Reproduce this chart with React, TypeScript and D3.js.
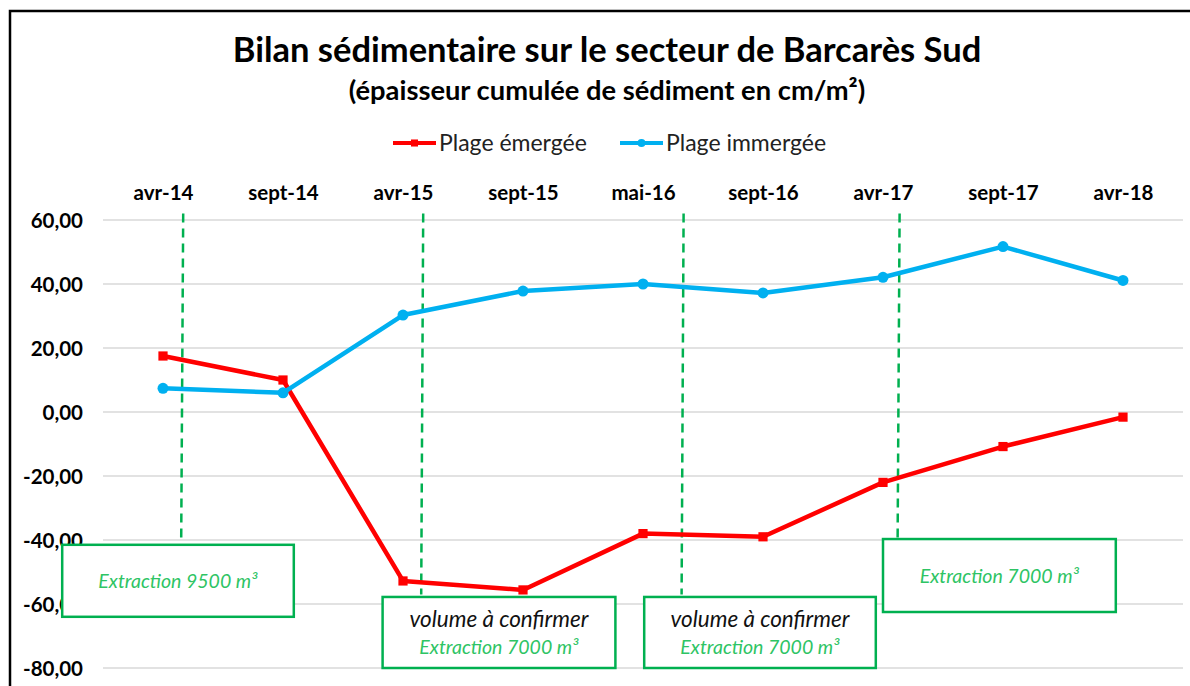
import React, { useRef, useEffect } from 'react';
import * as d3 from 'd3';

// Dates des levés (axe catégoriel en haut)
const categories = ['avr-14', 'sept-14', 'avr-15', 'sept-15', 'mai-16', 'sept-16', 'avr-17', 'sept-17', 'avr-18'];

// Épaisseur cumulée (cm/m²)
const emergee = [17.5, 10.0, -52.8, -55.6, -38.0, -39.0, -22.0, -10.8, -1.6];
const immergee = [7.4, 6.0, 30.3, 37.8, 40.0, 37.2, 42.1, 51.7, 41.1];

const yTicks = [60, 40, 20, 0, -20, -40, -60, -80];

// Extractions : position en index de catégorie (fractionnaire), bas de la ligne pointillée (valeur y)
const extractions = [
  { at: 0.16, bottom: -40, box: [-0.84, 1.09], boxTop: -41.5, boxBottom: -64, lines: ['Extraction 9500 m³'] },
  { at: 2.16, bottom: -57, box: [1.83, 3.77], boxTop: -57.8, boxBottom: -80, lines: ['volume à confirmer', 'Extraction 7000 m³'] },
  { at: 4.33, bottom: -57, box: [4.01, 5.94], boxTop: -57.8, boxBottom: -80, lines: ['volume à confirmer', 'Extraction 7000 m³'] },
  { at: 6.13, bottom: -41, box: [6.0, 7.94], boxTop: -39.7, boxBottom: -62.5, lines: ['Extraction 7000 m³'] },
];

const RED = '#ff0000';
const BLUE = '#00b0f0';
const GREEN = '#00b050';
const GREEN_TXT = '#2ec464';
const FONT = 'Lato, "Open Sans", sans-serif';

const Chart = ({ width, height }: { width: number; height: number }) => {
  const svgRef = useRef<SVGSVGElement>(null);

  useEffect(() => {
    const svg = d3.select(svgRef.current);
    svg.selectAll('*').remove();

    const marginLeft = 103;
    const marginRight = 7;
    const y0 = 220;
    const y1 = 668;

    const x = d3.scalePoint<string>()
      .domain(categories)
      .range([marginLeft, width - marginRight])
      .padding(0.5);
    const step = x.step();
    const xi = (i: number) => (x(categories[0]) as number) + i * step;

    const y = d3.scaleLinear().domain([60, -80]).range([y0, y1]);

    // Cadre (haut et gauche seulement)
    svg.append('path')
      .attr('d', `M10,${height} L10,11 L${width},11`)
      .attr('fill', 'none')
      .attr('stroke', '#000')
      .attr('stroke-width', 2.5);

    // Titre
    svg.append('text')
      .attr('x', 607).attr('y', 62)
      .attr('text-anchor', 'middle')
      .attr('font-family', FONT)
      .attr('font-weight', 700)
      .attr('font-size', 34.5)
      .text('Bilan sédimentaire sur le secteur de Barcarès Sud');
    svg.append('text')
      .attr('x', 607).attr('y', 100)
      .attr('text-anchor', 'middle')
      .attr('font-family', FONT)
      .attr('font-weight', 700)
      .attr('font-size', 27.3)
      .text('(épaisseur cumulée de sédiment en cm/m²)');

    // Légende
    const legend = [
      { label: 'Plage émergée', color: RED, shape: 'square', x: 393 },
      { label: 'Plage immergée', color: BLUE, shape: 'circle', x: 620 },
    ];
    const lg = svg.append('g').selectAll('g').data(legend).join('g')
      .attr('transform', d => `translate(${d.x},143)`);
    lg.append('line').attr('x1', 0).attr('x2', 43).attr('y1', 0).attr('y2', 0)
      .attr('stroke', d => d.color).attr('stroke-width', 4);
    lg.append('path')
      .attr('transform', 'translate(21.5,0)')
      .attr('d', d => d3.symbol(d.shape === 'square' ? d3.symbolSquare : d3.symbolCircle, 50)())
      .attr('fill', d => d.color);
    lg.append('text')
      .attr('x', 46).attr('y', 8)
      .attr('font-family', FONT)
      .attr('font-size', 23)
      .attr('fill', '#222')
      .text(d => d.label);

    // Grille
    svg.append('g').selectAll('line').data(yTicks).join('line')
      .attr('x1', marginLeft).attr('x2', width - marginRight)
      .attr('y1', d => y(d)).attr('y2', d => y(d))
      .attr('stroke', '#d9d9d9').attr('stroke-width', 1.5);

    // Axe Y
    const yAxis = svg.append('g')
      .attr('transform', `translate(83,0)`)
      .call(d3.axisLeft(y).tickValues(yTicks).tickSize(0).tickPadding(0)
        .tickFormat(d => d3.format('.2f')(d as number).replace('.', ',').replace('−', '-')));
    yAxis.select('.domain').remove();
    yAxis.selectAll('text')
      .attr('font-family', FONT)
      .attr('font-weight', 700)
      .attr('font-size', 20.5)
      .attr('fill', '#000')
      .attr('dy', '0.35em');

    // Axe X (en haut)
    const xAxis = svg.append('g')
      .attr('transform', `translate(0,200)`)
      .call(d3.axisTop(x).tickSize(0).tickPadding(0));
    xAxis.select('.domain').remove();
    xAxis.selectAll('text')
      .attr('font-family', FONT)
      .attr('font-weight', 700)
      .attr('font-size', 20.5)
      .attr('fill', '#000');

    // Lignes pointillées d'extraction
    svg.append('g').selectAll('line').data(extractions).join('line')
      .attr('x1', d => xi(d.at) + 1).attr('x2', d => xi(d.at) - 1)
      .attr('y1', y(62)).attr('y2', d => y(d.bottom))
      .attr('stroke', GREEN)
      .attr('stroke-width', 2.5)
      .attr('stroke-dasharray', '9,6');

    // Séries
    const series = [
      { values: emergee, color: RED, shape: 'square' },
      { values: immergee, color: BLUE, shape: 'circle' },
    ];
    const line = d3.line<number>().x((_, i) => x(categories[i]) as number).y(d => y(d));
    const sg = svg.append('g').selectAll('g').data(series).join('g');
    sg.append('path')
      .attr('d', d => line(d.values))
      .attr('fill', 'none')
      .attr('stroke', d => d.color)
      .attr('stroke-width', 4.5)
      .attr('stroke-linejoin', 'round');
    sg.each(function (s) {
      d3.select(this).selectAll('path.m').data(s.values).join('path')
        .attr('class', 'm')
        .attr('transform', (d, i) => `translate(${x(categories[i])},${y(d)})`)
        .attr('d', d3.symbol(s.shape === 'square' ? d3.symbolSquare : d3.symbolCircle, s.shape === 'square' ? 85 : 95)())
        .attr('fill', s.color);
    });

    // Encadrés
    const boxes = svg.append('g').selectAll('g').data(extractions).join('g');
    boxes.append('rect')
      .attr('x', d => xi(d.box[0])).attr('y', d => y(d.boxTop))
      .attr('width', d => xi(d.box[1]) - xi(d.box[0]))
      .attr('height', d => y(d.boxBottom) - y(d.boxTop))
      .attr('fill', '#fff')
      .attr('stroke', GREEN)
      .attr('stroke-width', 2.5);
    boxes.each(function (d) {
      const cx = (xi(d.box[0]) + xi(d.box[1])) / 2;
      const cy = (y(d.boxTop) + y(d.boxBottom)) / 2;
      const g = d3.select(this);
      if (d.lines.length === 1) {
        g.append('text')
          .attr('x', cx).attr('y', cy + 7)
          .attr('text-anchor', 'middle')
          .attr('font-family', FONT)
          .attr('font-style', 'italic')
          .attr('font-size', 19.5)
          .attr('fill', GREEN_TXT)
          .text(d.lines[0]);
      } else {
        g.append('text')
          .attr('x', cx).attr('y', cy - 5)
          .attr('text-anchor', 'middle')
          .attr('font-family', FONT)
          .attr('font-style', 'italic')
          .attr('font-size', 22.5)
          .attr('fill', '#111')
          .text(d.lines[0]);
        g.append('text')
          .attr('x', cx).attr('y', cy + 22)
          .attr('text-anchor', 'middle')
          .attr('font-family', FONT)
          .attr('font-style', 'italic')
          .attr('font-size', 19.5)
          .attr('fill', GREEN_TXT)
          .text(d.lines[1]);
      }
    });
  }, [width, height]);

  return <svg ref={svgRef} width={width} height={height} style={{ display: 'block', background: '#fff' }} />;
};

export default function App() {
  return (
    <div style={{ position: 'fixed', left: 0, top: 0 }}>
      <Chart width={1190} height={686} />
    </div>
  );
}
